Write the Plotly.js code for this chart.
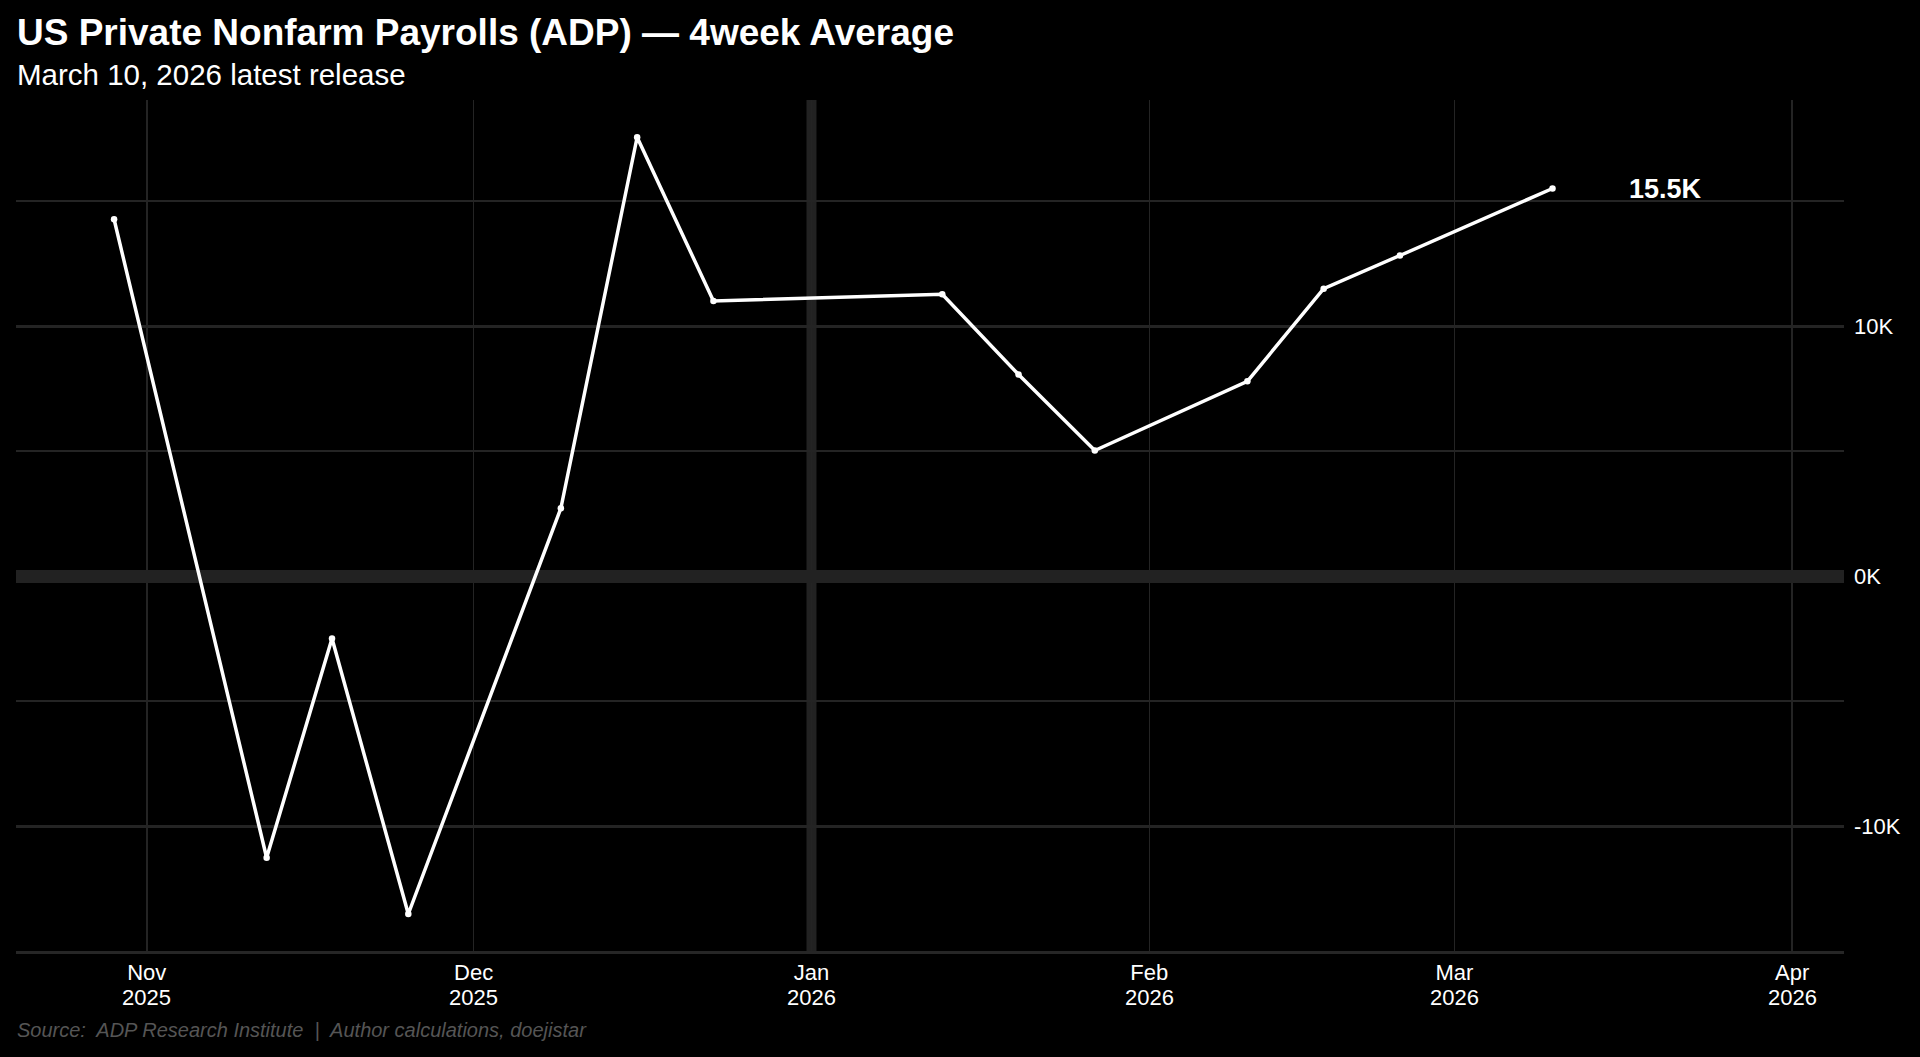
<!DOCTYPE html>
<html><head><meta charset="utf-8">
<script src="https://cdn.plot.ly/plotly-3.0.1.min.js"></script>
<style>html,body{margin:0;padding:0;background:#000;}#chart{width:1920px;height:1057px;}</style>
</head><body><div id="chart"></div>
<script>
// ---- data ----
const weekDates = ['2025-10-29','2025-11-12','2025-11-18','2025-11-25','2025-12-09','2025-12-16','2025-12-23','2026-01-13','2026-01-20','2026-01-27','2026-02-10','2026-02-17','2026-02-24','2026-03-10'];
const avgPayrollsK = [14.27,-11.27,-2.5,-13.52,2.71,17.55,11.0,11.27,8.06,5.02,7.79,11.49,12.82,15.5];
const monthTickDates = ['2025-11-01','2025-12-01','2026-01-01','2026-02-01','2026-03-01','2026-04-01'];
const monthTickLabels = ['Nov','Dec','Jan','Feb','Mar','Apr'];
const yearTickLabels = ['2025','2025','2026','2026','2026','2026'];
const yMajorTicks = [-10,0,10];
const yMajorLabels = ['-10K','0K','10K'];
const yMinorTicks = [-15,-5,5,15];
const yearBoundaryDates = ['2026-01-01'];
const titleText = 'US Private Nonfarm Payrolls (ADP) — 4week Average';
const subtitleText = 'March 10, 2026 latest release';
const sourceText = 'Source:\u00a0 ADP Research Institute\u00a0 |\u00a0 Author calculations, doejistar';

const FONT = 'Liberation Sans, Arial, Helvetica, sans-serif';
const GRID = '#242424';

const trace = {
  type: 'scatter', mode: 'lines+markers',
  x: weekDates, y: avgPayrollsK,
  line: {color: '#ffffff', width: 3.5},
  marker: {color: '#ffffff', size: 6.5},
  hoverinfo: 'x+y', showlegend: false
};

const lastIdx = avgPayrollsK.length - 1;
const annotations = [
  {text: subtitleText, xref: 'paper', yref: 'paper', x: 0, y: 1.0082, xanchor: 'left', yanchor: 'bottom',
   xshift: -1.5, showarrow: false, font: {family: FONT, size: 29.5, color: '#ffffff'}},
  {text: '<i>' + sourceText + '</i>', xref: 'paper', yref: 'paper', x: 0, y: -0.108, xanchor: 'left', yanchor: 'bottom',
   xshift: -1.5, showarrow: false, font: {family: FONT, size: 20, color: '#555555'}},
  {text: '<b>' + avgPayrollsK[lastIdx].toFixed(1) + 'K</b>', x: weekDates[lastIdx], y: avgPayrollsK[lastIdx],
   xref: 'x', yref: 'y', xanchor: 'left', yanchor: 'middle', xshift: 74, showarrow: false,
   font: {family: FONT, size: 27, color: '#ffffff'}}
];
monthTickDates.forEach((d, i) => {
  annotations.push({text: yearTickLabels[i], x: d, xref: 'x', yref: 'paper', y: -0.0376, yanchor: 'top',
    xanchor: 'center', showarrow: false, font: {family: FONT, size: 22, color: '#ffffff'}});
});

const shapes = yearBoundaryDates.map(d => ({
  type: 'line', xref: 'x', yref: 'paper', x0: d, x1: d, y0: 0, y1: 1,
  line: {color: '#222222', width: 10}, layer: 'below'
}));

const layout = {
  width: 1920, height: 1057,
  paper_bgcolor: '#000000', plot_bgcolor: '#000000',
  margin: {l: 16, r: 76, t: 100, b: 106, pad: 0},
  font: {family: FONT, color: '#ffffff'},
  title: {text: '<b>' + titleText + '</b>', xref: 'container', yref: 'container', x: 17/1920, xanchor: 'left',
          y: 1 - 19/1057, yanchor: 'top', font: {family: FONT, size: 37, color: '#ffffff'}},
  xaxis: {
    type: 'date', range: ['2025-10-20', '2026-04-05 18:00'],
    tickmode: 'array', tickvals: monthTickDates, ticktext: monthTickLabels,
    showgrid: true, gridcolor: GRID, gridwidth: 1.5,
    showline: true, linecolor: '#262626', linewidth: 3,
    ticks: '', tickfont: {family: FONT, size: 22, color: '#ffffff'},
    zeroline: false, fixedrange: true
  },
  yaxis: {
    side: 'right', range: [-15.0, 19.04],
    tickmode: 'array', tickvals: yMajorTicks, ticktext: yMajorLabels,
    showgrid: true, gridcolor: GRID, gridwidth: 3,
    minor: {tickmode: 'array', tickvals: yMinorTicks, showgrid: true, gridcolor: GRID, gridwidth: 1.5, ticks: ''},
    zeroline: true, zerolinecolor: '#222222', zerolinewidth: 13,
    showline: false, ticks: '', ticklabelstandoff: 9,
    tickfont: {family: FONT, size: 22, color: '#ffffff'}, fixedrange: true
  },
  annotations: annotations,
  shapes: shapes,
  showlegend: false
};

Plotly.newPlot('chart', [trace], layout, {displayModeBar: false, staticPlot: true});
</script>
</body></html>
